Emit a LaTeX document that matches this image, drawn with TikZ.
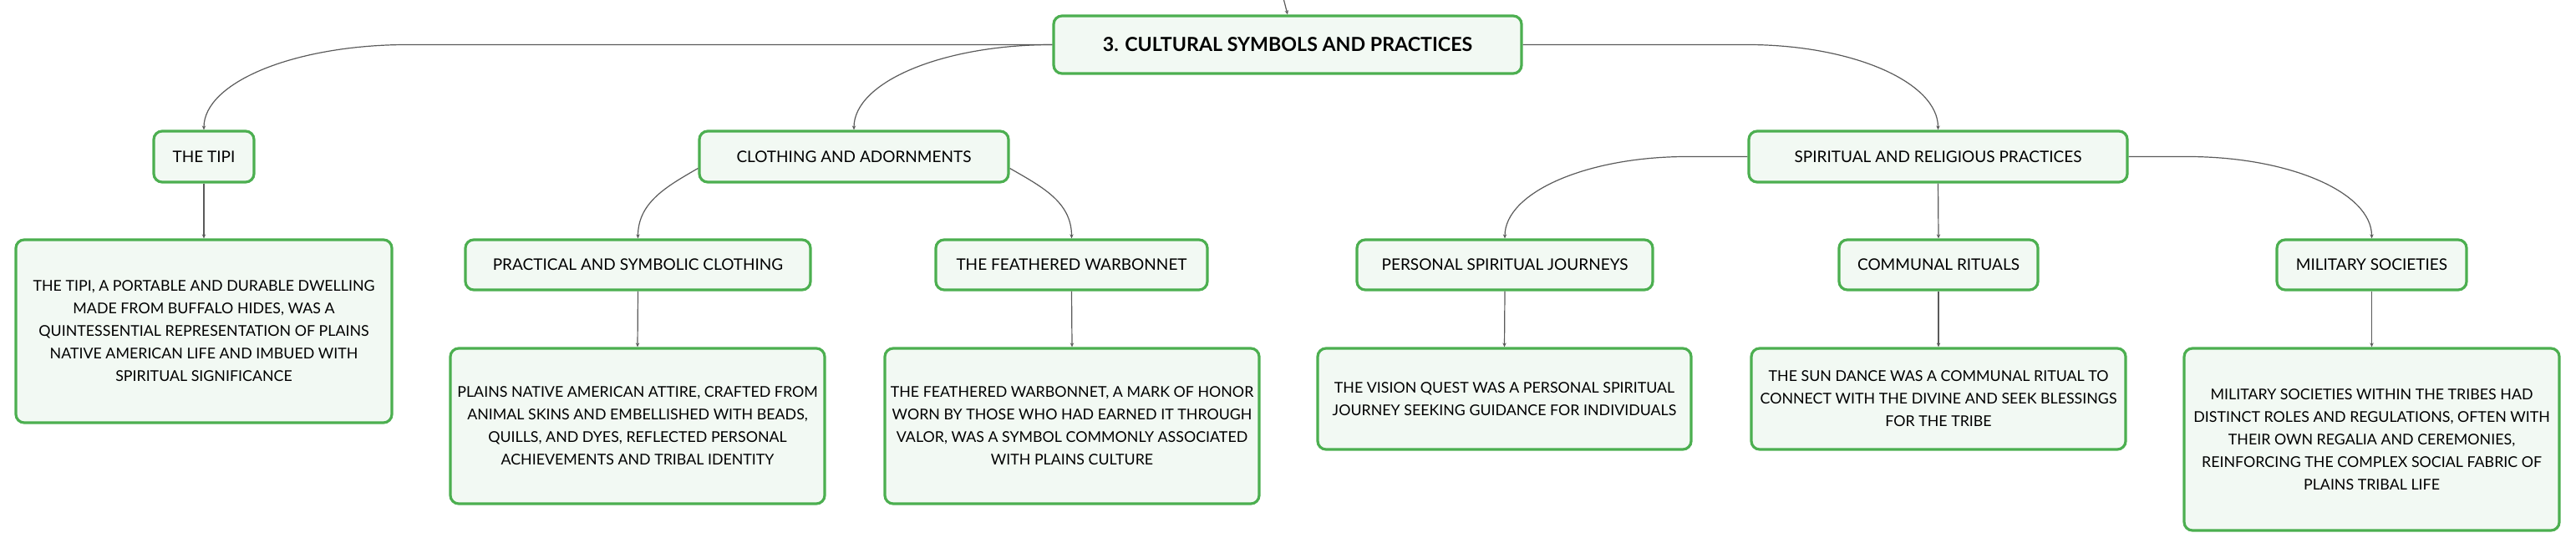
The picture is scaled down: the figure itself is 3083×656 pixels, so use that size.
\documentclass[tikz,border=0pt]{standalone}
\usepackage{fontspec}
\setmainfont{Lato}
\usetikzlibrary{arrows.meta}
\definecolor{boxline}{HTML}{4CAF50}
\definecolor{boxfill}{HTML}{F2F9F3}
\definecolor{linkcol}{HTML}{5A5A5A}
\tikzset{
  box/.style={draw=boxline, fill=boxfill, line width=1.6pt, rounded corners=5pt,
    align=center, inner sep=0pt, text=black},
  rootbox/.style={box, font=\fontsize{11.6}{14}\selectfont\bfseries},
  labbox/.style={box, font=\fontsize{9.5}{13.5}\selectfont},
  detbox/.style={box, font=\fontsize{8.9}{13.5}\selectfont},
  conn/.style={draw=linkcol, line width=0.6pt, -{Stealth[length=2.5pt,width=2.2pt]}},
}
\begin{document}
\begin{tikzpicture}[x=0.5pt,y=-0.5pt]
\useasboundingbox (0,0) rectangle (3083,656);
% level 0
\node[rootbox, minimum width=280pt, minimum height=34.5pt] (root) at (1541,53.5) {3. CULTURAL SYMBOLS AND PRACTICES};
% level 1
\node[labbox, minimum width=60pt, minimum height=30.5pt] (tipi) at (244,187.5) {THE TIPI};
\node[labbox, minimum width=185pt, minimum height=30.5pt] (clo) at (1022,187.5) {CLOTHING AND ADORNMENTS};
\node[labbox, minimum width=226.5pt, minimum height=30.5pt] (sp) at (2319.5,187.5) {SPIRITUAL AND RELIGIOUS PRACTICES};
% level 2
\node[detbox, minimum width=225pt, minimum height=109.5pt] (tipiD) at (244,396.5) {THE TIPI, A PORTABLE AND DURABLE DWELLING\\MADE FROM BUFFALO HIDES, WAS A\\QUINTESSENTIAL REPRESENTATION OF PLAINS\\NATIVE AMERICAN LIFE AND IMBUED WITH\\SPIRITUAL SIGNIFICANCE};
\node[labbox, minimum width=206.5pt, minimum height=30pt] (prac) at (763.5,317) {PRACTICAL AND SYMBOLIC CLOTHING};
\node[labbox, minimum width=162.5pt, minimum height=30pt] (war) at (1282.5,317) {THE FEATHERED WARBONNET};
\node[labbox, minimum width=177pt, minimum height=30pt] (pers) at (1801,317) {PERSONAL SPIRITUAL JOURNEYS};
\node[labbox, minimum width=119pt, minimum height=30pt] (com) at (2320,317) {COMMUNAL RITUALS};
\node[labbox, minimum width=113.5pt, minimum height=30pt] (mil) at (2838.5,317) {MILITARY SOCIETIES};
% level 3
\node[detbox, minimum width=224pt, minimum height=93pt] (pracD) at (763,510) {PLAINS NATIVE AMERICAN ATTIRE, CRAFTED FROM\\ANIMAL SKINS AND EMBELLISHED WITH BEADS,\\QUILLS, AND DYES, REFLECTED PERSONAL\\ACHIEVEMENTS AND TRIBAL IDENTITY};
\node[detbox, minimum width=224pt, minimum height=93pt] (warD) at (1283,510) {THE FEATHERED WARBONNET, A MARK OF HONOR\\WORN BY THOSE WHO HAD EARNED IT THROUGH\\VALOR, WAS A SYMBOL COMMONLY ASSOCIATED\\WITH PLAINS CULTURE};
\node[detbox, minimum width=223.5pt, minimum height=60.5pt] (persD) at (1800.5,477.5) {THE VISION QUEST WAS A PERSONAL SPIRITUAL\\JOURNEY SEEKING GUIDANCE FOR INDIVIDUALS};
\node[detbox, minimum width=224pt, minimum height=60.5pt] (comD) at (2320,477.5) {THE SUN DANCE WAS A COMMUNAL RITUAL TO\\CONNECT WITH THE DIVINE AND SEEK BLESSINGS\\FOR THE TRIBE};
\node[detbox, minimum width=224.5pt, minimum height=109pt] (milD) at (2838.5,526) {MILITARY SOCIETIES WITHIN THE TRIBES HAD\\DISTINCT ROLES AND REGULATIONS, OFTEN WITH\\THEIR OWN REGALIA AND CEREMONIES,\\REINFORCING THE COMPLEX SOCIAL FABRIC OF\\PLAINS TRIBAL LIFE};
% helper coordinates
\coordinate (up) at (1536,-2);
\coordinate (rtL) at (488,53.5);
\coordinate (rtR) at (2091,53.5);
\coordinate (spL) at (2019,187.5);
\coordinate (spR) at (2618,187.5);
% connectors
\draw[conn] (up) -- (root.north);
\draw[conn] (root.west) -- (rtL) .. controls +(-135,0) and +(0,-57) .. (tipi.north);
\draw[conn] (root.west) .. controls +(-132,0) and +(0,-57) .. (clo.north);
\draw[conn] (root.east) -- (rtR) .. controls +(126,0) and +(0,-57) .. (sp.north);
\draw[conn] ([yshift=-7pt]clo.west) to[out=210,in=90] (prac.north);
\draw[conn] ([yshift=-7pt]clo.east) to[out=-30,in=90] (war.north);
\draw[conn] (sp.west) -- (spL) .. controls +(-120,0) and +(0,-55) .. (pers.north);
\draw[conn] (sp.south) -- (com.north);
\draw[conn] (sp.east) -- (spR) .. controls +(122,0) and +(0,-55) .. (mil.north);
\draw[conn] (tipi.south) -- (tipiD.north);
\draw[conn] (prac.south) -- (pracD.north);
\draw[conn] (war.south) -- (warD.north);
\draw[conn] (pers.south) -- (persD.north);
\draw[conn] (com.south) -- (comD.north);
\draw[conn] (mil.south) -- (milD.north);
\end{tikzpicture}
\end{document}
